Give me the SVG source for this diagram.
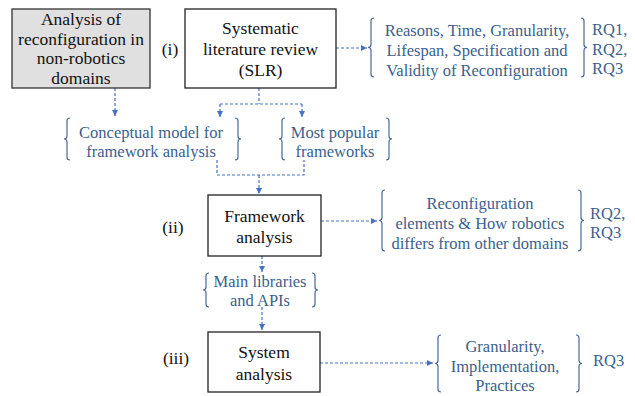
<svg xmlns="http://www.w3.org/2000/svg" width="635" height="396" viewBox="0 0 635 396" font-family="Liberation Serif, DejaVu Serif, serif">
<style>
.box{fill:#fff;stroke:#222;stroke-width:1.3}
.gray{fill:#e0e0e0;stroke:#333;stroke-width:1.3}
.t{font-size:17.5px;fill:#111;text-anchor:middle}
.b{font-size:16.5px;fill:#3b5f8e;text-anchor:middle}
.rq{font-size:16.5px;fill:#3b5f8e}
.br{fill:none;stroke:#4a6a94;stroke-width:1.2}
.c{fill:none;stroke:#4472c4;stroke-width:1.2;stroke-dasharray:3,2}
</style>
<defs>
<marker id="ah" markerUnits="userSpaceOnUse" markerWidth="6" markerHeight="6" refX="6" refY="3" orient="auto">
<path d="M0,0 L6,3 L0,6 z" fill="#4472c4"/>
</marker>
</defs>
<g id="connectors">
<path class="c" d="M115,88 V116" marker-end="url(#ah)"/>
<path class="c" d="M259,88 V104 M220,104 H302"/>
<path class="c" d="M220,104 V117" marker-end="url(#ah)"/>
<path class="c" d="M302,104 V117" marker-end="url(#ah)"/>
<path class="c" d="M217,160 V175 H304 V160"/>
<path class="c" d="M259,175 V194" marker-end="url(#ah)"/>
<path class="c" d="M336,48 H367" marker-end="url(#ah)"/>
<path class="c" d="M321,221 H377" marker-end="url(#ah)"/>
<path class="c" d="M262,256 V272" marker-end="url(#ah)"/>
<path class="c" d="M262,307 V330" marker-end="url(#ah)"/>
<path class="c" d="M320,363 H433" marker-end="url(#ah)"/>
</g>
<g id="nonrobotics" font-family="Liberation Serif, serif">
<rect class="gray" x="12" y="9" width="138" height="79"/>
<text class="t" x="81" y="25">Analysis of</text>
<text class="t" x="81" y="44.7">reconfiguration in</text>
<text class="t" x="81" y="64.4">non-robotics</text>
<text class="t" x="81" y="84">domains</text>
</g>
<g id="slr" font-family="Liberation Serif, serif">
<rect class="box" x="185" y="9" width="151" height="79"/>
<text class="t" x="260.5" y="34">Systematic</text>
<text class="t" x="260.5" y="55">literature review</text>
<text class="t" x="260.5" y="76">(SLR)</text>
<text class="t" x="170" y="55">(i)</text>
</g>
<g id="slr-results" font-family="Liberation Serif, serif">
<path class="br" d="M374,18 Q371,18 371,21 L371,44.5 Q371,47.5 368,47.5 Q371,47.5 371,50.5 L371,74 Q371,77 374,77"/>
<path class="br" d="M581,18 Q584,18 584,21 L584,44.5 Q584,47.5 587,47.5 Q584,47.5 584,50.5 L584,74 Q584,77 581,77"/>
<text class="b" x="477" y="36">Reasons, Time, Granularity,</text>
<text class="b" x="477" y="56">Lifespan, Specification and</text>
<text class="b" x="477" y="75.5">Validity of Reconfiguration</text>
<text class="rq" x="592" y="35">RQ1,</text>
<text class="rq" x="592" y="55">RQ2,</text>
<text class="rq" x="592" y="74">RQ3</text>
</g>
<g id="conceptual" font-family="Liberation Serif, serif">
<path class="br" d="M70,118 Q67,118 67,121 L67,136 Q67,139 64,139 Q67,139 67,142 L67,157 Q67,160 70,160"/>
<path class="br" d="M235,118 Q238,118 238,121 L238,136 Q238,139 241,139 Q238,139 238,142 L238,157 Q238,160 235,160"/>
<text class="b" x="151" y="138">Conceptual model for</text>
<text class="b" x="151" y="157">framework analysis</text>
</g>
<g id="popular" font-family="Liberation Serif, serif">
<path class="br" d="M285,118 Q282,118 282,121 L282,136 Q282,139 279,139 Q282,139 282,142 L282,157 Q282,160 285,160"/>
<path class="br" d="M386,118 Q389,118 389,121 L389,136 Q389,139 392,139 Q389,139 389,142 L389,157 Q389,160 386,160"/>
<text class="b" x="335" y="138">Most popular</text>
<text class="b" x="335" y="157">frameworks</text>
</g>
<g id="framework" font-family="Liberation Serif, serif">
<rect class="box" x="208" y="195" width="113" height="61"/>
<text class="t" x="264.5" y="222">Framework</text>
<text class="t" x="264.5" y="243">analysis</text>
<text class="t" x="173" y="233">(ii)</text>
</g>
<g id="framework-results" font-family="Liberation Serif, serif">
<path class="br" d="M385,190 Q382,190 382,193 L382,217.5 Q382,220.5 379,220.5 Q382,220.5 382,223.5 L382,248 Q382,251 385,251"/>
<path class="br" d="M578,190 Q581,190 581,193 L581,217.5 Q581,220.5 584,220.5 Q581,220.5 581,223.5 L581,248 Q581,251 578,251"/>
<text class="b" x="480" y="209">Reconfiguration</text>
<text class="b" x="480" y="229">elements &amp; How robotics</text>
<text class="b" x="480" y="249">differs from other domains</text>
<text class="rq" x="590" y="219">RQ2,</text>
<text class="rq" x="590" y="238">RQ3</text>
</g>
<g id="libraries" font-family="Liberation Serif, serif">
<path class="br" d="M209,273 Q206,273 206,276 L206,287 Q206,290 203,290 Q206,290 206,293 L206,304 Q206,307 209,307"/>
<path class="br" d="M312,273 Q315,273 315,276 L315,287 Q315,290 318,290 Q315,290 315,293 L315,304 Q315,307 312,307"/>
<text class="b" x="260" y="287">Main libraries</text>
<text class="b" x="260" y="306">and APIs</text>
</g>
<g id="system" font-family="Liberation Serif, serif">
<rect class="box" x="208" y="332" width="112" height="60"/>
<text class="t" x="264" y="358">System</text>
<text class="t" x="264" y="380">analysis</text>
<text class="t" x="176" y="364">(iii)</text>
</g>
<g id="system-results" font-family="Liberation Serif, serif">
<path class="br" d="M441,335 Q438,335 438,338 L438,360.5 Q438,363.5 435,363.5 Q438,363.5 438,366.5 L438,389 Q438,392 441,392"/>
<path class="br" d="M576,335 Q579,335 579,338 L579,360.5 Q579,363.5 582,363.5 Q579,363.5 579,366.5 L579,389 Q579,392 576,392"/>
<text class="b" x="505" y="352">Granularity,</text>
<text class="b" x="505" y="372">Implementation,</text>
<text class="b" x="505" y="391">Practices</text>
<text class="rq" x="593" y="366">RQ3</text>
</g>
</svg>
